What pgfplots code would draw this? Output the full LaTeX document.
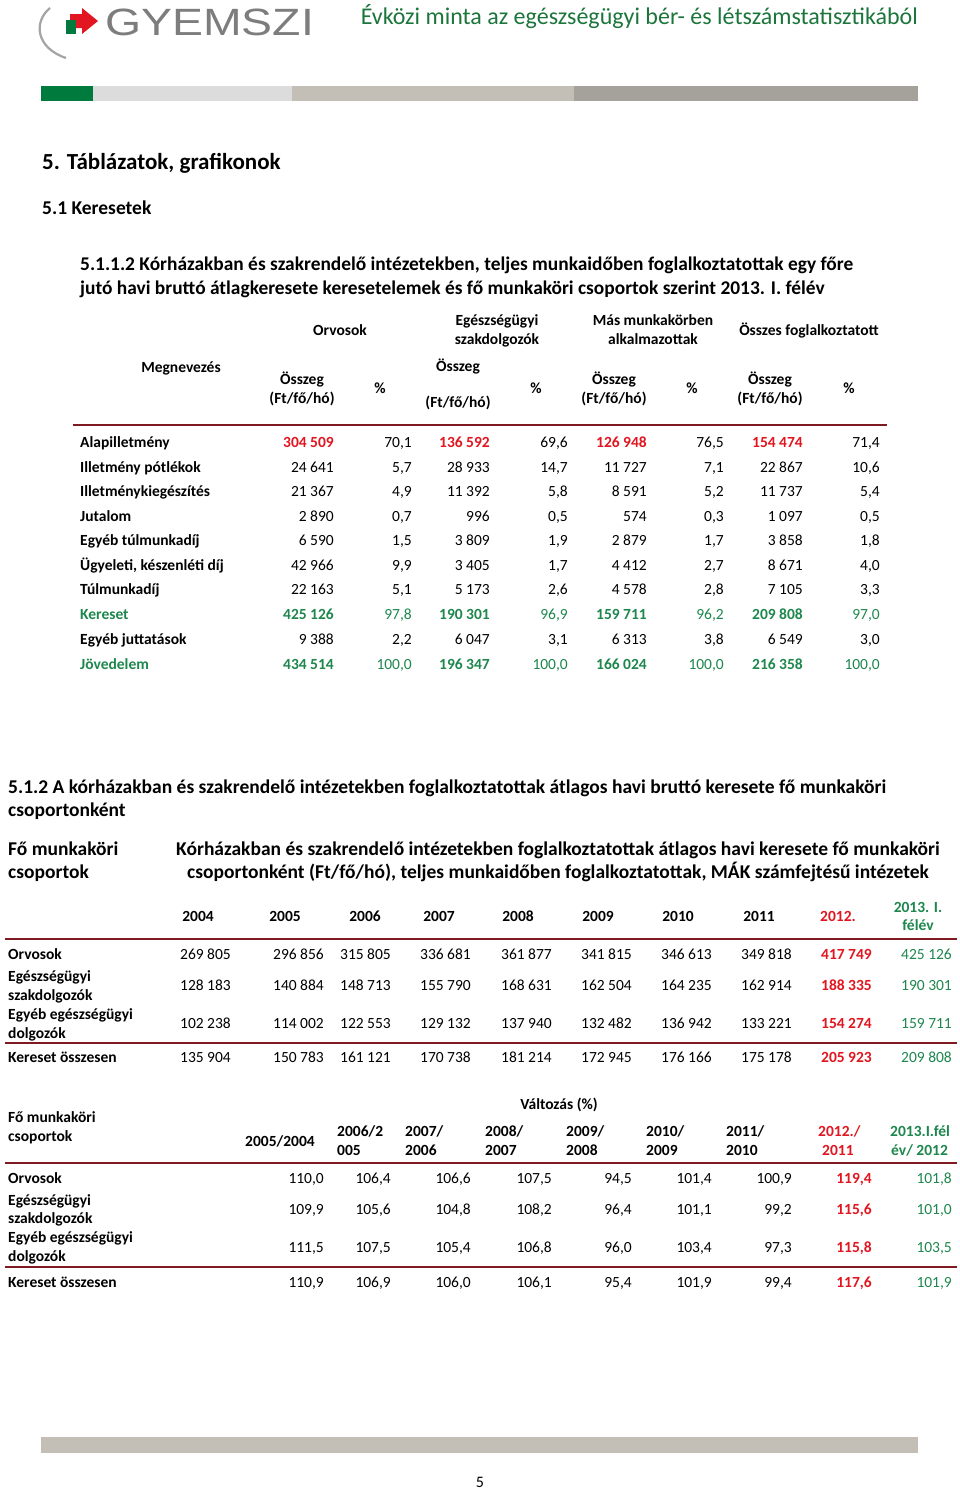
\documentclass[border=0pt]{standalone}
\usepackage{fontspec}
\setmainfont{Carlito}
\newfontfamily\logofont{Liberation Sans}
\usepackage{pgfplots}
\pgfplotsset{compat=1.18}
\definecolor{dred}{RGB}{128,26,34}
\definecolor{vred}{RGB}{226,22,32}
\definecolor{vgreen}{RGB}{30,135,78}
\definecolor{tgreen}{RGB}{28,118,60}
\definecolor{bgreen}{RGB}{0,122,61}
\definecolor{lgray}{RGB}{220,220,220}
\definecolor{mgray}{RGB}{196,191,182}
\definecolor{dgray}{RGB}{165,162,155}
\definecolor{logogray}{RGB}{125,125,125}
\tikzset{
  t/.style={inner sep=0pt, yshift=-3pt, font=\fontsize{15.5}{18}\selectfont},
  tb/.style={inner sep=0pt, yshift=-3pt, font=\fontsize{15.5}{18}\selectfont\bfseries},
  L/.style={t, anchor=mid west},
  R/.style={t, anchor=mid east},
  C/.style={t, anchor=mid},
  LB/.style={tb, anchor=mid west},
  CB/.style={tb, anchor=mid},
  H/.style={inner sep=0pt, yshift=-5pt, anchor=mid west},
}
\newcommand{\NR}[3]{\node[R] at (axis cs:#1,#2) {#3};}
\newcommand{\NL}[3]{\node[LB] at (axis cs:#1,#2) {#3};}
\newcommand{\NC}[3]{\node[CB] at (axis cs:#1,#2) {#3};}
\newcommand{\rb}[1]{{\bfseries\color{vred}#1}}
\newcommand{\gb}[1]{{\bfseries\color{vgreen}#1}}
\newcommand{\gr}[1]{{\color{vgreen}#1}}
% table 1 row: y, 8 values
\newcommand{\TA}[9]{\NR{334}{#1}{#2}\NR{412}{#1}{#3}\NR{490}{#1}{#4}\NR{568}{#1}{#5}\NR{647}{#1}{#6}\NR{724}{#1}{#7}\NR{803}{#1}{#8}\NR{880}{#1}{#9}}
% table 2 row: y, 2004..2011
\newcommand{\TB}[9]{\NR{231}{#1}{#2}\NR{324}{#1}{#3}\NR{391}{#1}{#4}\NR{471}{#1}{#5}\NR{552}{#1}{#6}\NR{632}{#1}{#7}\NR{712}{#1}{#8}\NR{792}{#1}{#9}}
% table 3 row: y, 8 values
\newcommand{\TC}[9]{\NR{324}{#1}{#2}\NR{391}{#1}{#3}\NR{471}{#1}{#4}\NR{552}{#1}{#5}\NR{632}{#1}{#6}\NR{712}{#1}{#7}\NR{792}{#1}{#8}\NR{872}{#1}{#9}}
\begin{document}
\begin{tikzpicture}
\begin{axis}[width=960pt, height=1491pt, scale only axis, hide axis,
  xmin=0, xmax=960, ymin=0, ymax=1491, y dir=reverse, clip=false]
\path[fill=white] (axis cs:0,0) rectangle (axis cs:960,1491);
% ---------- logo ----------
\draw[logogray!70, line width=2.2pt] (axis cs:50,8) .. controls (axis cs:33,22) and (axis cs:36,48) .. (axis cs:66,58);
\fill[vred] (axis cs:70,14) -- (axis cs:82,14) -- (axis cs:82,8) -- (axis cs:98,21) -- (axis cs:82,34) -- (axis cs:82,28) -- (axis cs:70,28) -- cycle;
\fill[bgreen] (axis cs:66,20) rectangle (axis cs:76,34);
\node[inner sep=0pt, anchor=base west, text=logogray, font=\logofont\fontsize{38}{40}\selectfont, xscale=1.22] at (axis cs:105,35) {GYEMSZI};
\node[H, anchor=mid east, text=tgreen, font=\fontsize{24}{28}\selectfont] at (axis cs:918,17) {Évközi minta az egészségügyi bér- és létszámstatisztikából};
% colour bar
\fill[bgreen] (axis cs:41,86) rectangle (axis cs:93,101);
\fill[lgray] (axis cs:93,86) rectangle (axis cs:292,101);
\fill[mgray] (axis cs:292,86) rectangle (axis cs:574,101);
\fill[dgray] (axis cs:574,86) rectangle (axis cs:918,101);
% ---------- headings ----------
\node[H, font=\fontsize{23}{27}\selectfont\bfseries] at (axis cs:42,162) {5. Táblázatok, grafikonok};
\node[H, font=\fontsize{19.5}{23}\selectfont\bfseries] at (axis cs:42,207) {5.1 Keresetek};
\node[H, font=\fontsize{19.4}{23}\selectfont\bfseries] at (axis cs:80,263) {5.1.1.2 Kórházakban és szakrendelő intézetekben, teljes munkaidőben foglalkoztatottak egy főre};
\node[H, font=\fontsize{19.4}{23}\selectfont\bfseries] at (axis cs:80,287) {jutó havi bruttó átlagkeresete keresetelemek és fő munkaköri csoportok szerint 2013. I. félév};
% ---------- table 1 header ----------
\NC{340}{330}{Orvosok}
\NC{497}{320}{Egészségügyi}
\NC{497}{339}{szakdolgozók}
\NC{653}{320}{Más munkakörben}
\NC{653}{339}{alkalmazottak}
\NC{809}{330}{Összes foglalkoztatott}
\NC{181}{367}{Megnevezés}
\NC{302}{379}{Összeg}\NC{302}{398}{(Ft/fő/hó)}\NC{380}{388}{\%}
\NC{458}{366}{Összeg}\NC{458}{402}{(Ft/fő/hó)}\NC{536}{388}{\%}
\NC{614}{379}{Összeg}\NC{614}{398}{(Ft/fő/hó)}\NC{692}{388}{\%}
\NC{770}{379}{Összeg}\NC{770}{398}{(Ft/fő/hó)}\NC{849}{388}{\%}
\draw[dred, line width=2.5pt] (axis cs:73,425) -- (axis cs:887,425);
% ---------- table 1 body ----------
\NL{80}{442}{Alapilletmény}
\TA{442}{\rb{304 509}}{70,1}{\rb{136 592}}{69,6}{\rb{126 948}}{76,5}{\rb{154 474}}{71,4}
\NL{80}{467}{Illetmény pótlékok}
\TA{467}{24 641}{5,7}{28 933}{14,7}{11 727}{7,1}{22 867}{10,6}
\NL{80}{491}{Illetménykiegészítés}
\TA{491}{21 367}{4,9}{11 392}{5,8}{8 591}{5,2}{11 737}{5,4}
\NL{80}{516}{Jutalom}
\TA{516}{2 890}{0,7}{996}{0,5}{574}{0,3}{1 097}{0,5}
\NL{80}{540}{Egyéb túlmunkadíj}
\TA{540}{6 590}{1,5}{3 809}{1,9}{2 879}{1,7}{3 858}{1,8}
\NL{80}{565}{Ügyeleti, készenléti díj}
\TA{565}{42 966}{9,9}{3 405}{1,7}{4 412}{2,7}{8 671}{4,0}
\NL{80}{589}{Túlmunkadíj}
\TA{589}{22 163}{5,1}{5 173}{2,6}{4 578}{2,8}{7 105}{3,3}
\NL{80}{614}{\color{vgreen}Kereset}
\TA{614}{\gb{425 126}}{\gr{97,8}}{\gb{190 301}}{\gr{96,9}}{\gb{159 711}}{\gr{96,2}}{\gb{209 808}}{\gr{97,0}}
\NL{80}{639}{Egyéb juttatások}
\TA{639}{9 388}{2,2}{6 047}{3,1}{6 313}{3,8}{6 549}{3,0}
\NL{80}{664}{\color{vgreen}Jövedelem}
\TA{664}{\gb{434 514}}{\gr{100,0}}{\gb{196 347}}{\gr{100,0}}{\gb{166 024}}{\gr{100,0}}{\gb{216 358}}{\gr{100,0}}
% ---------- section 5.1.2 ----------
\node[H, font=\fontsize{19.5}{23}\selectfont\bfseries] at (axis cs:8,786) {5.1.2 A kórházakban és szakrendelő intézetekben foglalkoztatottak átlagos havi bruttó keresete fő munkaköri};
\node[H, font=\fontsize{19.5}{23}\selectfont\bfseries] at (axis cs:8,809) {csoportonként};
\node[H, yshift=1pt, font=\fontsize{19.5}{23}\selectfont\bfseries] at (axis cs:8,849) {Fő munkaköri};
\node[H, yshift=1pt, font=\fontsize{19.5}{23}\selectfont\bfseries] at (axis cs:8,872) {csoportok};
\node[H, yshift=1pt, anchor=mid, font=\fontsize{19.5}{23}\selectfont\bfseries] at (axis cs:558,849) {Kórházakban és szakrendelő intézetekben foglalkoztatottak átlagos havi keresete fő munkaköri};
\node[H, yshift=1pt, anchor=mid, font=\fontsize{19.5}{23}\selectfont\bfseries] at (axis cs:558,872) {csoportonként (Ft/fő/hó), teljes munkaidőben foglalkoztatottak, MÁK számfejtésű intézetek};
% table 2 header
\NC{198}{916}{2004}\NC{285}{916}{2005}\NC{365}{916}{2006}\NC{439}{916}{2007}
\NC{518}{916}{2008}\NC{598}{916}{2009}\NC{678}{916}{2010}\NC{759}{916}{2011}
\NC{838}{916}{\color{vred}2012.}
\NC{918}{907}{\color{vgreen}2013. I.}\NC{918}{925}{\color{vgreen}félév}
\draw[dred, line width=2.5pt] (axis cs:5,939) -- (axis cs:957,939);
% table 2 body
\NL{8}{954}{Orvosok}
\TB{954}{269 805}{296 856}{315 805}{336 681}{361 877}{341 815}{346 613}{349 818}
\NR{872}{954}{\rb{417 749}}\NR{952}{954}{\gr{425 126}}
\NL{8}{976}{Egészségügyi}\NL{8}{995}{szakdolgozók}
\TB{985}{128 183}{140 884}{148 713}{155 790}{168 631}{162 504}{164 235}{162 914}
\NR{872}{985}{\rb{188 335}}\NR{952}{985}{\gr{190 301}}
\NL{8}{1014}{Egyéb egészségügyi}\NL{8}{1033}{dolgozók}
\TB{1023}{102 238}{114 002}{122 553}{129 132}{137 940}{132 482}{136 942}{133 221}
\NR{872}{1023}{\rb{154 274}}\NR{952}{1023}{\gr{159 711}}
\draw[dred, line width=2.5pt] (axis cs:5,1043) -- (axis cs:957,1043);
\NL{8}{1057}{Kereset összesen}
\TB{1057}{135 904}{150 783}{161 121}{170 738}{181 214}{172 945}{176 166}{175 178}
\NR{872}{1057}{\rb{205 923}}\NR{952}{1057}{\gr{209 808}}
% ---------- table 3 ----------
\NC{559}{1104}{Változás (\%)}
\NL{8}{1117}{Fő munkaköri}\NL{8}{1136}{csoportok}
\NL{245}{1141}{2005/2004}
\NL{337}{1131}{2006/2}\NL{337}{1150}{005}
\NL{405}{1131}{2007/}\NL{405}{1150}{2006}
\NL{485}{1131}{2008/}\NL{485}{1150}{2007}
\NL{566}{1131}{2009/}\NL{566}{1150}{2008}
\NL{646}{1131}{2010/}\NL{646}{1150}{2009}
\NL{726}{1131}{2011/}\NL{726}{1150}{2010}
\NL{818}{1131}{\color{vred}2012./}\NL{822}{1150}{\color{vred}2011}
\NL{890}{1131}{\color{vgreen}2013.I.fél}\NL{891}{1150}{\color{vgreen}év/ 2012}
\draw[dred, line width=2.5pt] (axis cs:5,1163) -- (axis cs:957,1163);
\NL{8}{1178}{Orvosok}
\TC{1178}{110,0}{106,4}{106,6}{107,5}{94,5}{101,4}{100,9}{\rb{119,4}}
\NR{952}{1178}{\gr{101,8}}
\NL{8}{1200}{Egészségügyi}\NL{8}{1218}{szakdolgozók}
\TC{1209}{109,9}{105,6}{104,8}{108,2}{96,4}{101,1}{99,2}{\rb{115,6}}
\NR{952}{1209}{\gr{101,0}}
\NL{8}{1237}{Egyéb egészségügyi}\NL{8}{1256}{dolgozók}
\TC{1247}{111,5}{107,5}{105,4}{106,8}{96,0}{103,4}{97,3}{\rb{115,8}}
\NR{952}{1247}{\gr{103,5}}
\draw[dred, line width=2.5pt] (axis cs:5,1267) -- (axis cs:957,1267);
\NL{8}{1282}{Kereset összesen}
\TC{1282}{110,9}{106,9}{106,0}{106,1}{95,4}{101,9}{99,4}{\rb{117,6}}
\NR{952}{1282}{\gr{101,9}}
% ---------- footer ----------
\fill[mgray] (axis cs:41,1437) rectangle (axis cs:918,1453);
\node[inner sep=0pt, anchor=mid, yshift=-3pt, font=\fontsize{16}{19}\selectfont] at (axis cs:480,1482) {5};
\end{axis}
\end{tikzpicture}
\end{document}
